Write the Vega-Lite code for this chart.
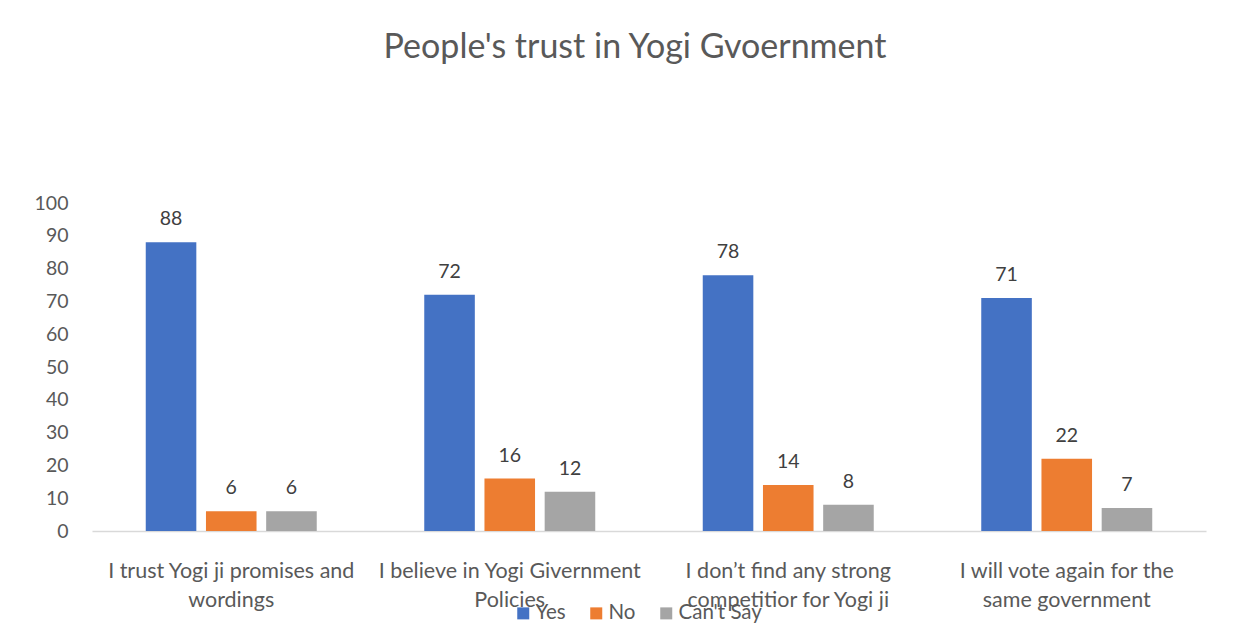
{
  "$schema": "https://vega.github.io/schema/vega-lite/v6.json",
  "width": 1114,
  "height": 328,
  "autosize": "none",
  "padding": {"left": 92, "top": 203, "right": 43, "bottom": 111},
  "background": "white",
  "config": {
    "view": {"stroke": null},
    "font": "Lato"
  },
  "title": {
    "text": "People's trust in Yogi Gvoernment",
    "fontSize": 34,
    "fontWeight": "normal",
    "color": "#595959",
    "font": "Lato",
    "anchor": "middle",
    "dx": -14,
    "offset": 128
  },
  "data": {
    "values": [
      {"statement": "I trust Yogi ji promises and wordings", "response": "Yes", "value": 88},
      {"statement": "I trust Yogi ji promises and wordings", "response": "No", "value": 6},
      {"statement": "I trust Yogi ji promises and wordings", "response": "Can't Say", "value": 6},
      {"statement": "I believe in Yogi Givernment Policies", "response": "Yes", "value": 72},
      {"statement": "I believe in Yogi Givernment Policies", "response": "No", "value": 16},
      {"statement": "I believe in Yogi Givernment Policies", "response": "Can't Say", "value": 12},
      {"statement": "I don’t find any strong competitior for Yogi ji", "response": "Yes", "value": 78},
      {"statement": "I don’t find any strong competitior for Yogi ji", "response": "No", "value": 14},
      {"statement": "I don’t find any strong competitior for Yogi ji", "response": "Can't Say", "value": 8},
      {"statement": "I will vote again for the same government", "response": "Yes", "value": 71},
      {"statement": "I will vote again for the same government", "response": "No", "value": 22},
      {"statement": "I will vote again for the same government", "response": "Can't Say", "value": 7}
    ]
  },
  "encoding": {
    "x": {
      "field": "statement",
      "type": "nominal",
      "sort": null,
      "title": null,
      "scale": {"paddingInner": 0.386, "paddingOuter": 0.193},
      "axis": {
        "labelAngle": 0,
        "labelFontSize": 21.5,
        "labelColor": "#595959",
        "labelFont": "Lato",
        "labelPadding": 29,
        "labelLineHeight": 29,
        "labelLimit": 400,
        "ticks": false,
        "domainColor": "#d9d9d9",
        "domainWidth": 1.5,
        "labelExpr": "datum.label == 'I trust Yogi ji promises and wordings' ? ['I trust Yogi ji promises and', 'wordings'] : datum.label == 'I believe in Yogi Givernment Policies' ? ['I believe in Yogi Givernment', 'Policies'] : datum.label == 'I don’t find any strong competitior for Yogi ji' ? ['I don’t find any strong', 'competitior for Yogi ji'] : ['I will vote again for the', 'same government']"
      }
    },
    "xOffset": {
      "field": "response",
      "type": "nominal",
      "sort": ["Yes", "No", "Can't Say"],
      "scale": {"paddingInner": 0.16}
    },
    "y": {
      "field": "value",
      "type": "quantitative",
      "title": null,
      "scale": {"domain": [0, 100]},
      "axis": {
        "values": [0, 10, 20, 30, 40, 50, 60, 70, 80, 90, 100],
        "grid": false,
        "domain": false,
        "ticks": false,
        "labelFontSize": 19.5,
        "labelColor": "#595959",
        "labelFont": "Lato",
        "labelPadding": 24
      }
    }
  },
  "layer": [
    {
      "mark": {"type": "bar"},
      "encoding": {
        "color": {
          "field": "response",
          "type": "nominal",
          "sort": ["Yes", "No", "Can't Say"],
          "scale": {"domain": ["Yes", "No", "Can't Say"], "range": ["#4472C4", "#ED7D31", "#A5A5A5"]},
          "legend": {
            "title": null,
            "orient": "none",
            "legendX": 421,
            "legendY": 400,
            "direction": "horizontal",
            "symbolType": "square",
            "symbolSize": 144,
            "symbolStrokeWidth": 0,
            "labelFontSize": 20.5,
            "labelColor": "#595959",
            "labelFont": "Lato",
            "labelOffset": 2,
            "columnPadding": 20
          }
        }
      }
    },
    {
      "mark": {"type": "text", "baseline": "alphabetic", "dy": -17, "fontSize": 19.5, "color": "#404040", "font": "Lato"},
      "encoding": {
        "text": {"field": "value", "type": "quantitative"}
      }
    }
  ]
}
